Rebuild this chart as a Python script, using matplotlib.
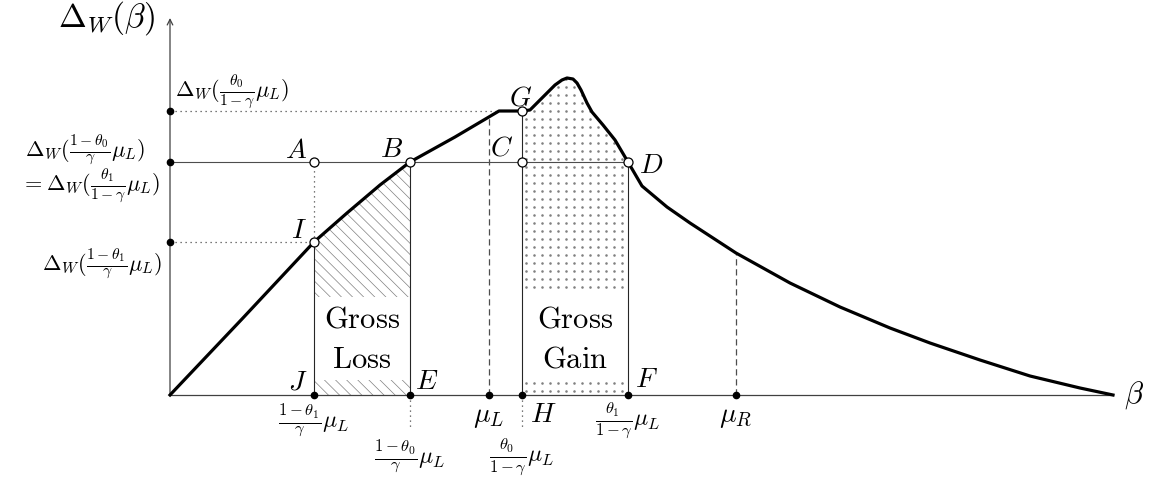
import matplotlib.pyplot as plt
from matplotlib.patches import Rectangle
import numpy as np

plt.rcParams['mathtext.fontset'] = 'cm'
plt.rcParams['hatch.linewidth'] = 0.5

# welfare difference curve Delta_W(beta)
betaCurve = [0.00, 0.72, 1.44, 1.77, 2.10, 2.40, 2.85, 3.29, 3.52, 3.60, 3.73, 3.85,
             3.92, 3.97, 4.03, 4.07, 4.11, 4.17, 4.22, 4.33, 4.45, 4.58, 4.72, 4.97,
             5.20, 5.66, 6.20, 6.70, 7.20, 7.60, 8.10, 8.60, 9.10, 9.43]
deltaCurve = [0.00, 0.76, 1.53, 1.82, 2.10, 2.33, 2.58, 2.84, 2.84, 2.85, 2.98, 3.10,
              3.15, 3.17, 3.16, 3.12, 3.05, 2.92, 2.83, 2.70, 2.55, 2.33, 2.09, 1.88,
              1.72, 1.42, 1.12, 0.88, 0.67, 0.52, 0.35, 0.19, 0.07, 0.00]

# marked points on the beta axis
betaJ, betaE, betaMuL, betaH, betaF, betaMuR = 1.44, 2.40, 3.19, 3.52, 4.58, 5.66
betaEnd = 9.43
# marked levels on the Delta axis
levelG, levelB, levelI = 2.84, 2.33, 1.53
betaFlat = 3.29

fig = plt.figure(figsize=(11.51, 4.78), dpi=100)
ax = fig.add_axes([0, 0, 1, 1])
ax.axis('off')
ax.set_xlim(-1.70, 9.81)
ax.set_ylim(-0.83, 3.95)

bc = np.array(betaCurve)
dc = np.array(deltaCurve)

def regionUnderCurve(b0, b1):
    inside = (bc >= b0) & (bc <= b1)
    xs = [b0] + list(bc[inside]) + [b1]
    ys = [0] + list(dc[inside]) + [0]
    return xs, ys

# gross loss: hatched area between J and E
xs, ys = regionUnderCurve(betaJ, betaE)
ax.fill(xs, ys, facecolor='none', edgecolor='0.5', hatch='\\\\\\', linewidth=0, zorder=1)
ax.add_patch(Rectangle((betaJ, 0.15), betaE - betaJ, 0.83, facecolor='white', edgecolor='none', zorder=2))

# gross gain: dotted area between H and F
xs, ys = regionUnderCurve(betaH, betaF)
gainPoly = ax.fill(xs, ys, facecolor='none', edgecolor='none', zorder=1)[0]
gx, gy = np.meshgrid(np.arange(betaH + 0.04, betaF, 0.08), np.arange(0.04, 3.3, 0.08))
dots = ax.scatter(gx.ravel(), gy.ravel(), s=3.4, color='0.5', linewidths=0, zorder=1)
dots.set_clip_path(gainPoly)
ax.add_patch(Rectangle((betaH + 0.02, 0.15), betaF - betaH - 0.04, 0.87, facecolor='white', edgecolor='none', zorder=2))

# axes
axisColor = '0.25'
ax.plot([0, betaEnd], [0, 0], color=axisColor, lw=0.9, zorder=3)
ax.annotate('', xy=(0, 3.77), xytext=(0, 0),
            arrowprops=dict(arrowstyle='->', color=axisColor, lw=0.9, shrinkA=0, shrinkB=0), zorder=3)

thin = dict(color='0.15', lw=0.8, zorder=3)
dotted = dict(color='0.3', lw=0.9, linestyle=(0, (1, 3)), zorder=3)
dashed = dict(color='0.3', lw=0.9, linestyle=(0, (5, 3)), zorder=3)

ax.plot([0, betaF], [levelB, levelB], color='0.3', lw=0.8, zorder=3)
ax.plot([0, betaFlat], [levelG, levelG], **dotted)
ax.plot([0, betaJ], [levelI, levelI], **dotted)
ax.plot([betaJ, betaJ], [levelI, levelB], **dotted)
ax.plot([betaJ, betaJ], [0, levelI], **thin)
ax.plot([betaE, betaE], [0, levelB], **thin)
ax.plot([betaH, betaH], [0, levelG], **thin)
ax.plot([betaF, betaF], [0, levelB], **thin)
ax.plot([betaE, betaE], [0, -0.33], **dotted)
ax.plot([betaH, betaH], [0, -0.33], **dotted)
ax.plot([betaMuL, betaMuL], [0, np.interp(betaMuL, bc, dc)], **dashed)
ax.plot([betaMuR, betaMuR], [0, np.interp(betaMuR, bc, dc)], **dashed)

ax.plot(bc, dc, color='black', lw=2.3, solid_joinstyle='round', zorder=4)

# point markers
ax.plot([0, 0, 0], [levelG, levelB, levelI], 'o', color='black', ms=4.5, zorder=5)
ax.plot([betaJ, betaE, betaMuL, betaH, betaF, betaMuR], [0] * 6, 'o', color='black', ms=4.5, zorder=5)
ax.plot([betaJ, betaE, betaH, betaF, betaH, betaJ], [levelB, levelB, levelB, levelB, levelG, levelI], 'o',
        mfc='white', mec='black', mew=0.9, ms=6.5, zorder=5)

# labels
ax.text(-0.15, 3.77, r'$\Delta_W(\beta)$', fontsize=24, ha='right', va='center')
ax.text(9.54, 0.0, r'$\beta$', fontsize=22, ha='left', va='center')

ysz = 16
ax.text(0.05, 3.03, r'$\Delta_W(\frac{\theta_0}{1-\gamma}\mu_L)$', fontsize=ysz, ha='left', va='center')
ax.text(-0.25, 2.45, r'$\Delta_W(\frac{1-\theta_0}{\gamma}\mu_L)$', fontsize=ysz, ha='right', va='center')
ax.text(-0.10, 2.09, r'$=\Delta_W(\frac{\theta_1}{1-\gamma}\mu_L)$', fontsize=ysz, ha='right', va='center')
ax.text(-0.08, 1.31, r'$\Delta_W(\frac{1-\theta_1}{\gamma}\mu_L)$', fontsize=ysz, ha='right', va='center')

xsz = 17
ax.text(betaJ, -0.25, r'$\frac{1-\theta_1}{\gamma}\mu_L$', fontsize=xsz, ha='center', va='center')
ax.text(betaE, -0.61, r'$\frac{1-\theta_0}{\gamma}\mu_L$', fontsize=xsz, ha='center', va='center')
ax.text(betaH, -0.61, r'$\frac{\theta_0}{1-\gamma}\mu_L$', fontsize=xsz, ha='center', va='center')
ax.text(betaF, -0.25, r'$\frac{\theta_1}{1-\gamma}\mu_L$', fontsize=xsz, ha='center', va='center')
ax.text(betaMuL, -0.21, r'$\mu_L$', fontsize=20, ha='center', va='center')
ax.text(betaMuR, -0.21, r'$\mu_R$', fontsize=20, ha='center', va='center')
ax.text(3.60, -0.19, r'$H$', fontsize=20, ha='left', va='center')

psz = 20
for name, bx, by in [('A', 1.26, 2.45), ('B', 2.21, 2.46), ('C', 3.32, 2.47), ('D', 4.81, 2.30),
                     ('G', 3.51, 2.97), ('I', 1.29, 1.65), ('J', 1.28, 0.14), ('E', 2.57, 0.14),
                     ('F', 4.76, 0.16)]:
    ax.text(bx, by, '$' + name + '$', fontsize=psz, ha='center', va='center', zorder=6)

gsz = 22
ax.text((betaJ + betaE) / 2, 0.67, r'$\mathrm{Gross}$', fontsize=gsz, ha='center', va='baseline', zorder=6)
ax.text((betaJ + betaE) / 2, 0.27, r'$\mathrm{Loss}$', fontsize=gsz, ha='center', va='baseline', zorder=6)
ax.text((betaH + betaF) / 2, 0.67, r'$\mathrm{Gross}$', fontsize=gsz, ha='center', va='baseline', zorder=6)
ax.text((betaH + betaF) / 2, 0.27, r'$\mathrm{Gain}$', fontsize=gsz, ha='center', va='baseline', zorder=6)

fig.savefig('out.png', dpi=100)
